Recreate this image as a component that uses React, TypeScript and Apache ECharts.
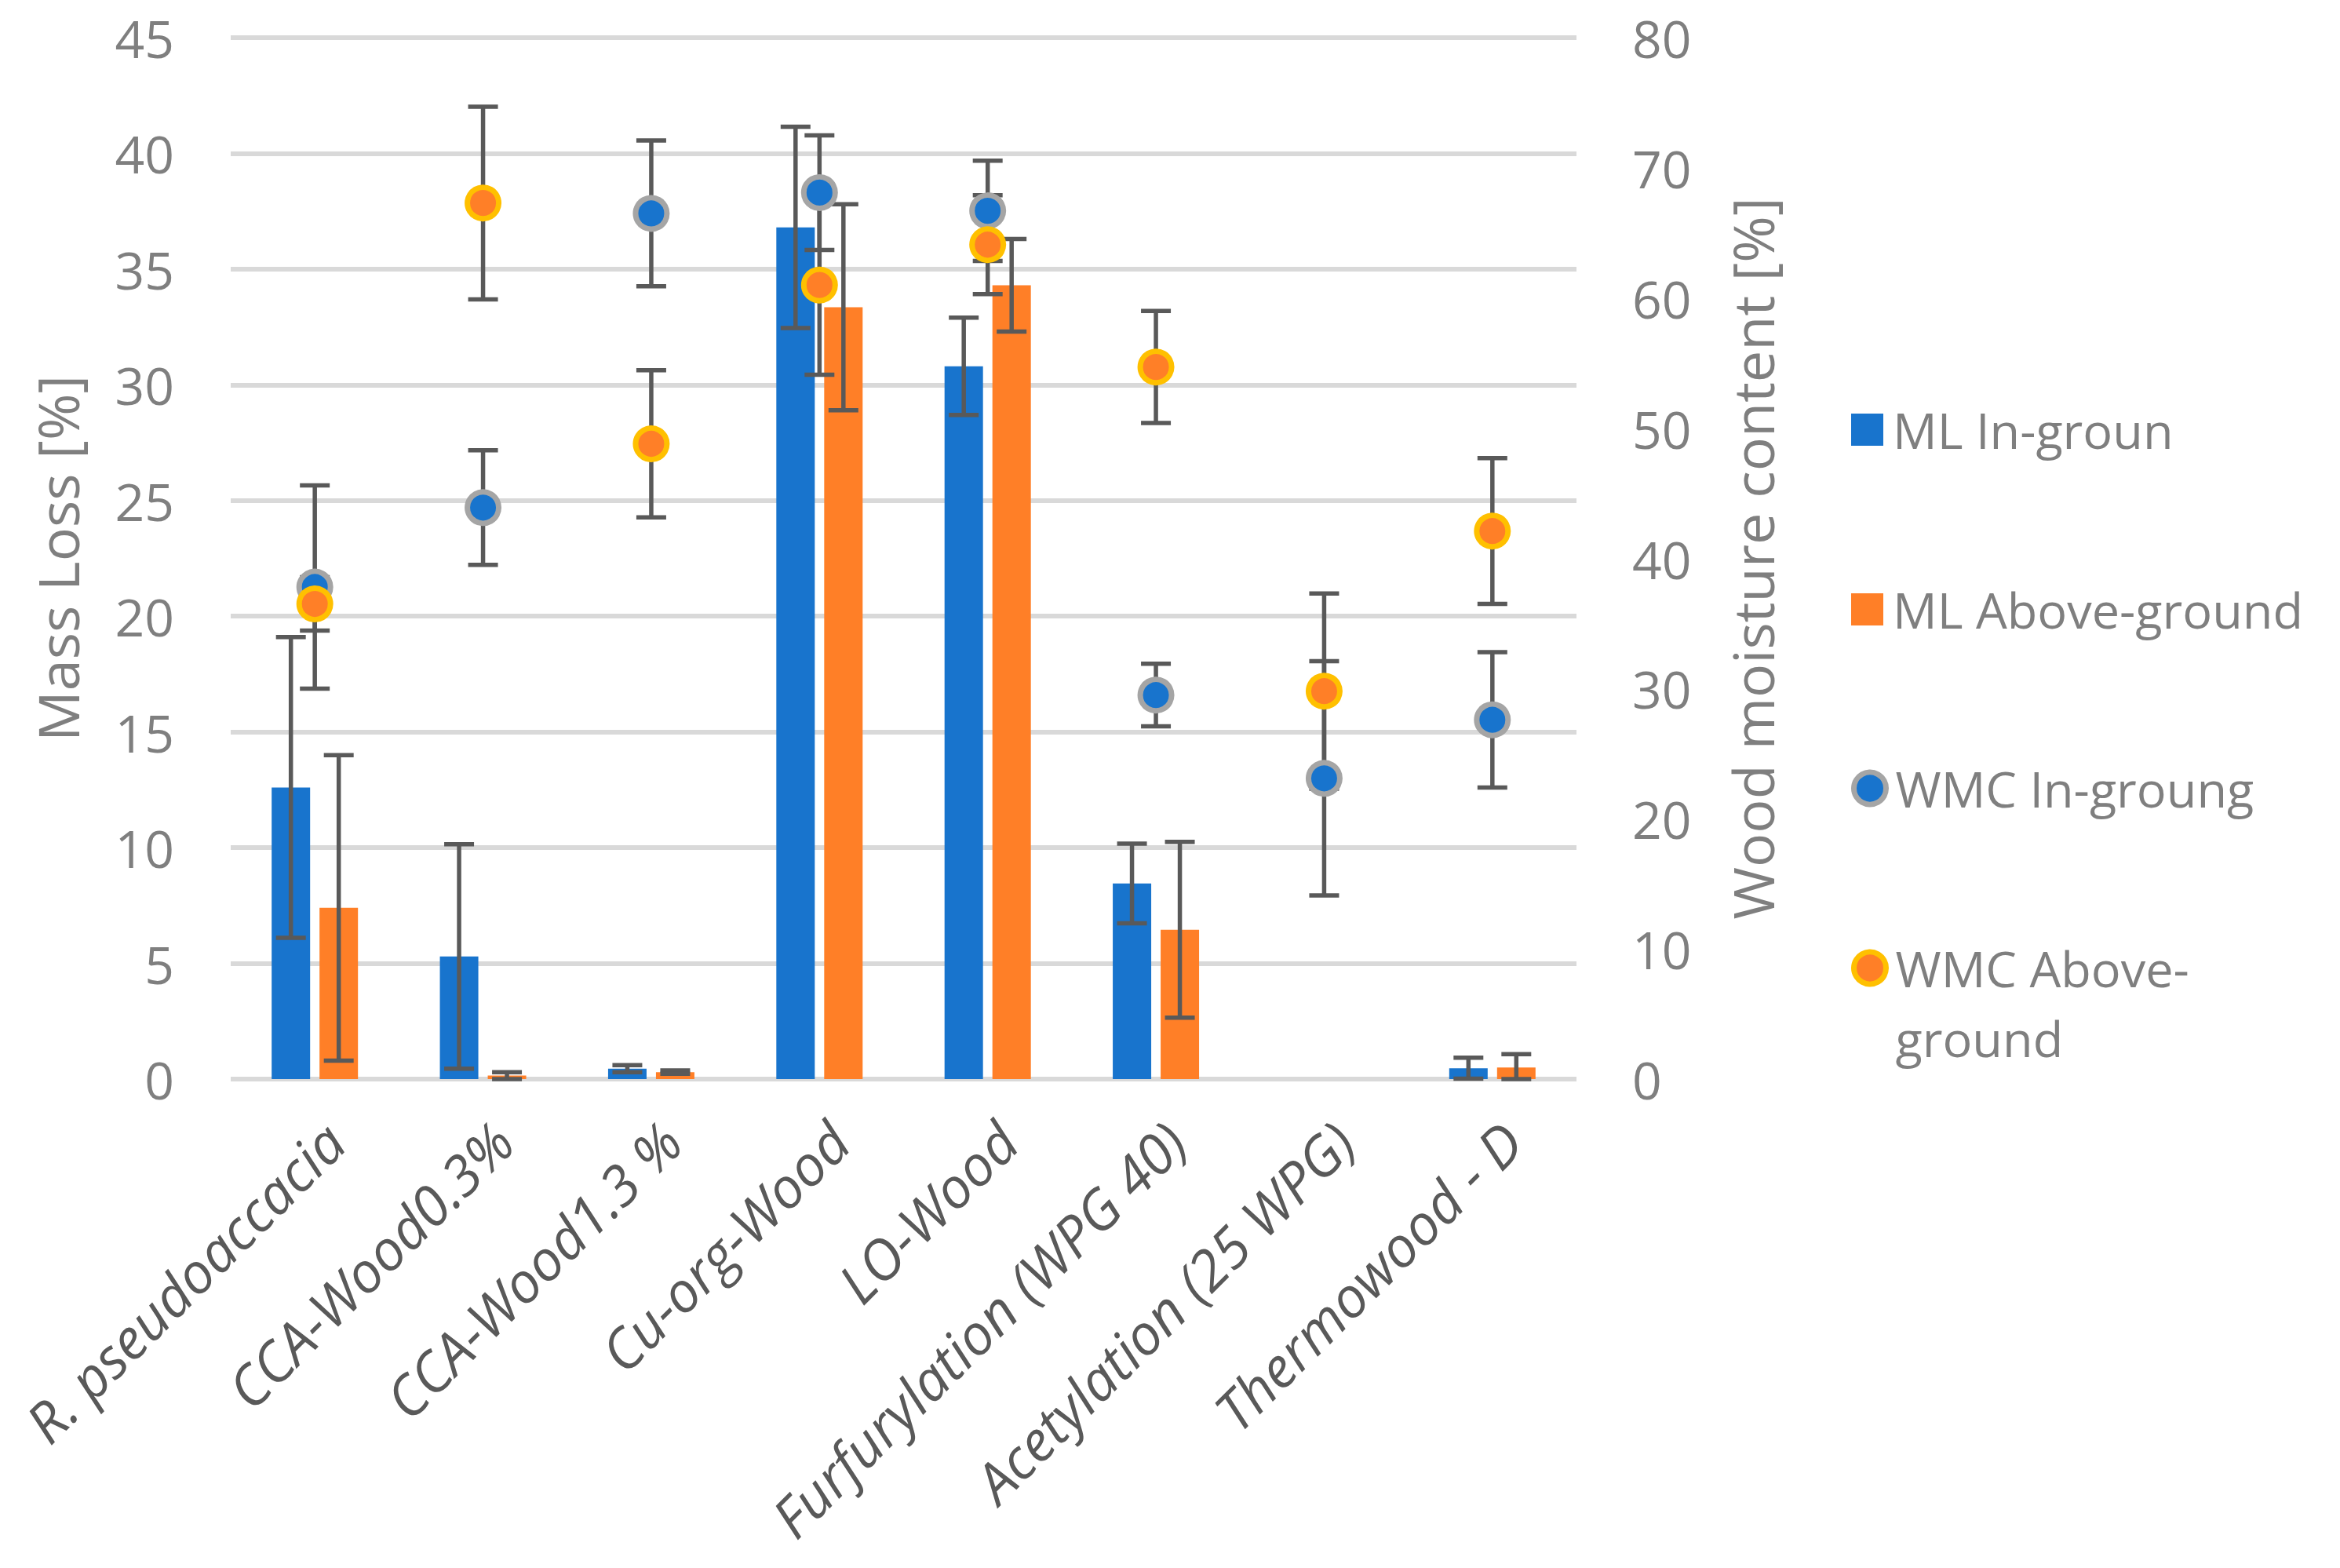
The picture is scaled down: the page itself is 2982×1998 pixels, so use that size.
import React, { useEffect, useRef } from "react";
import * as echarts from "echarts";

const categories = [
  "R. pseudoaccacia",
  "CCA-Wood0.3%",
  "CCA-Wood1.3 %",
  "Cu-org-Wood",
  "LO-Wood",
  "Furfurylation (WPG 40)",
  "Acetylation (25 WPG)",
  "Thermowood - D",
];

const seriesNames = ["ML In-groun", "ML Above-ground", "WMC In-groung", "WMC Above-ground"];

const mlIn = [12.6, 5.3, 0.45, 36.8, 30.8, 8.45, null, 0.47];
const mlInErr = [6.5, 4.85, 0.15, 4.35, 2.1, 1.72, null, 0.45];
const mlAbove = [7.4, 0.15, 0.3, 33.35, 34.3, 6.45, null, 0.5];
const mlAboveErr = [6.6, 0.15, 0.07, 4.45, 2.0, 3.8, null, 0.58];

const wmcIn = [37.8, 43.9, 66.5, 68.1, 66.7, 29.5, 23.1, 27.6];
const wmcInErr = [7.8, 4.4, 5.6, 4.4, 3.85, 2.4, 9.0, 5.2];
const wmcAbove = [36.5, 67.3, 48.8, 61.0, 64.1, 54.7, 29.8, 42.1];
const wmcAboveErr = [2.05, 7.4, 5.65, 6.9, 3.8, 4.3, 7.5, 5.6];

const leftTicks = { min: 0, max: 45, interval: 5 };
const rightTicks = { min: 0, max: 80, interval: 10 };

const BLUE = "#1874CD";
const ORANGE = "#FF7F27";
const GRAY_BORDER = "#A5A5A5";
const YELLOW_BORDER = "#FFC000";
const ERR_COLOR = "#595959";
const TEXT_GRAY = "#7F7F7F";
const FONT = "Open Sans";

const BAR_W = 49;
const BAR_GAP = 12;
const CAP = 38;
const ERR_W = 5.5;

function errData(vals: (number | null)[], errs: (number | null)[]) {
  const out: number[][] = [];
  vals.forEach((v, i) => {
    if (v != null && errs[i] != null) out.push([i, v, errs[i] as number]);
  });
  return out;
}

function errRender(offset: number) {
  return (_params: any, api: any) => {
    const i = api.value(0);
    const v = api.value(1);
    const e = api.value(2);
    const p1 = api.coord([i, v + e]);
    const p2 = api.coord([i, Math.max(v - e, 0)]);
    const x = p1[0] + offset;
    const style = { stroke: ERR_COLOR, lineWidth: ERR_W };
    return {
      type: "group",
      children: [
        { type: "line", shape: { x1: x, y1: p1[1], x2: x, y2: p2[1] }, style },
        { type: "line", shape: { x1: x - CAP / 2, y1: p1[1], x2: x + CAP / 2, y2: p1[1] }, style },
        { type: "line", shape: { x1: x - CAP / 2, y1: p2[1], x2: x + CAP / 2, y2: p2[1] }, style },
      ],
    };
  };
}

export default function App() {
  const ref = useRef<HTMLDivElement>(null);
  useEffect(() => {
    if (!ref.current) return;
    const chart = echarts.init(ref.current, null, { renderer: "svg" });
    const off = (BAR_W + BAR_GAP) / 2;
    const legendText = {
      color: TEXT_GRAY,
      fontSize: 63,
      fontFamily: FONT,
      lineHeight: 89,
      padding: [0, 0, 0, 7],
    };
    const legendBase = {
      orient: "horizontal",
      left: 2354,
      itemWidth: 41,
      itemHeight: 41,
      selectedMode: false,
      textStyle: legendText,
    };
    chart.setOption({
      animation: false,
      backgroundColor: "#ffffff",
      grid: { left: 294, right: 973, top: 48, bottom: 623, containLabel: false },
      legend: [
        { ...legendBase, top: 498, data: [seriesNames[0]], icon: "rect" },
        { ...legendBase, top: 727, data: [seriesNames[1]], icon: "rect" },
        { ...legendBase, top: 955, data: [seriesNames[2]], itemStyle: { borderWidth: 7 } },
        {
          ...legendBase,
          top: 1095,
          data: [seriesNames[3]],
          itemStyle: { borderWidth: 7 },
          formatter: () => "\nWMC Above-\nground",
        },
      ],
      xAxis: {
        type: "category",
        data: categories,
        axisLine: { show: false },
        axisTick: { show: false },
        axisLabel: {
          interval: 0,
          rotate: 45,
          margin: 42,
          verticalAlign: "top",
          color: "#595959",
          fontStyle: "italic",
          fontSize: 71,
          fontFamily: FONT,
        },
      },
      yAxis: [
        {
          type: "value",
          position: "left",
          ...leftTicks,
          name: "Mass Loss [%]",
          nameLocation: "middle",
          nameRotate: 90,
          nameGap: 185,
          nameTextStyle: { color: TEXT_GRAY, fontSize: 72, fontFamily: FONT },
          axisLine: { show: false },
          axisTick: { show: false },
          axisLabel: { color: TEXT_GRAY, fontSize: 66, fontFamily: FONT, margin: 72 },
          splitLine: { show: true, lineStyle: { color: "#D9D9D9", width: 6 } },
        },
        {
          type: "value",
          position: "right",
          ...rightTicks,
          name: "Wood moisture content [%]",
          nameLocation: "middle",
          nameRotate: 90,
          nameGap: 188,
          nameTextStyle: { color: TEXT_GRAY, fontSize: 72, fontFamily: FONT },
          axisLine: { show: false },
          axisTick: { show: false },
          axisLabel: { color: TEXT_GRAY, fontSize: 66, fontFamily: FONT, margin: 71 },
          splitLine: { show: false },
        },
      ],
      series: [
        {
          name: seriesNames[0],
          type: "bar",
          yAxisIndex: 0,
          data: mlIn,
          barWidth: BAR_W,
          barGap: (BAR_GAP / BAR_W) * 100 + "%",
          itemStyle: { color: BLUE },
          z: 2,
        },
        {
          name: seriesNames[1],
          type: "bar",
          yAxisIndex: 0,
          data: mlAbove,
          barWidth: BAR_W,
          barGap: (BAR_GAP / BAR_W) * 100 + "%",
          itemStyle: { color: ORANGE },
          z: 2,
        },
        {
          name: seriesNames[2],
          type: "scatter",
          yAxisIndex: 1,
          data: wmcIn,
          symbol: "circle",
          symbolSize: 40,
          itemStyle: { color: BLUE, borderColor: GRAY_BORDER, borderWidth: 7, opacity: 1 },
          z: 6,
        },
        {
          name: seriesNames[3],
          type: "scatter",
          yAxisIndex: 1,
          data: wmcAbove,
          symbol: "circle",
          symbolSize: 40,
          itemStyle: { color: ORANGE, borderColor: YELLOW_BORDER, borderWidth: 7, opacity: 1 },
          z: 7,
        },
        {
          name: "err-ml-in",
          type: "custom",
          yAxisIndex: 0,
          data: errData(mlIn, mlInErr),
          renderItem: errRender(-off),
          z: 3,
        },
        {
          name: "err-ml-above",
          type: "custom",
          yAxisIndex: 0,
          data: errData(mlAbove, mlAboveErr),
          renderItem: errRender(off),
          z: 3,
        },
        {
          name: "err-wmc-in",
          type: "custom",
          yAxisIndex: 1,
          data: errData(wmcIn, wmcInErr),
          renderItem: errRender(0),
          z: 4,
        },
        {
          name: "err-wmc-above",
          type: "custom",
          yAxisIndex: 1,
          data: errData(wmcAbove, wmcAboveErr),
          renderItem: errRender(0),
          z: 4,
        },
      ],
    });
    return () => chart.dispose();
  }, []);
  return (
    <div
      ref={ref}
      style={{ position: "absolute", left: 0, top: 0, width: 2982, height: 1998 }}
    />
  );
}
